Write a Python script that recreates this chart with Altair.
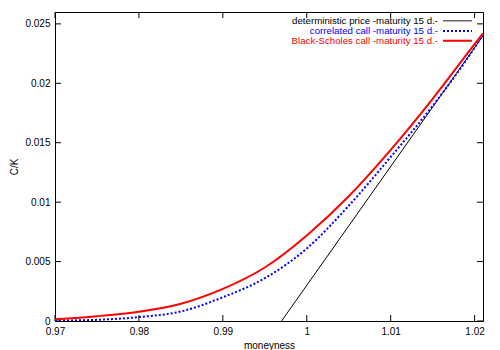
import altair as alt
import pandas as pd

# ---- data ----
moneyness = [0.970, 0.975, 0.980, 0.985, 0.990, 0.995, 1.000, 1.005, 1.010, 1.015, 1.020, 1.021]
bs_call = [0.00014, 0.00040, 0.00078, 0.00145, 0.00270, 0.00450, 0.00720, 0.01050, 0.01440, 0.01870, 0.02330, 0.02420]
corr_call = [0.00003, 0.00010, 0.00033, 0.00080, 0.00200, 0.00360, 0.00610, 0.00970, 0.01380, 0.01810, 0.02300, 0.02410]
det_x = [0.997, 1.021]
det_y = [0.0, 0.024]

x_ticks = [0.97, 0.98, 0.99, 1.00, 1.01, 1.02]
y_ticks = [0, 0.005, 0.01, 0.015, 0.02, 0.025]

legend_labels = [
    "deterministic price -maturity 15 d.-",
    "correlated call -maturity 15 d.-",
    "Black-Scholes call -maturity 15 d.-",
]
legend_colors = ["#000000", "#0000ff", "#ff0000"]

W, H = 428, 309
FONT = "Liberation Sans"

xs = alt.Scale(domain=[0.97, 1.021], nice=False, zero=False)
ys = alt.Scale(domain=[0, 0.026], nice=False, zero=False)

xaxis = alt.Axis(values=x_ticks, format="~g", ticks=False, grid=False, domain=False,
                 labelFlush=False, labelOverlap=False,
                 labelFont=FONT, labelFontSize=10, labelColor="black", labelPadding=5,
                 title="moneyness", titleFont=FONT, titleFontSize=10, titleFontWeight="normal",
                 titleColor="black", titleX=W / 2, titleY=27.5, titleBaseline="alphabetic")
yaxis = alt.Axis(values=y_ticks, format="~g", ticks=False, grid=False, domain=False,
                 labelFlush=False, labelOverlap=False,
                 labelFont=FONT, labelFontSize=10, labelColor="black", labelPadding=5,
                 title="C/K", titleFont=FONT, titleFontSize=10, titleFontWeight="normal",
                 titleColor="black", titleX=-38, titleY=H / 2, titleAngle=270,
                 titleBaseline="alphabetic", titleAlign="center")

X = lambda: alt.X("x:Q", scale=xs, axis=xaxis)
Y = lambda: alt.Y("y:Q", scale=ys, axis=yaxis)

det_df = pd.DataFrame({"x": det_x, "y": det_y})
bs_df = pd.DataFrame({"x": moneyness, "y": bs_call})
corr_df = pd.DataFrame({"x": moneyness, "y": corr_call})
xt_df = pd.DataFrame({"x": x_ticks})
yt_df = pd.DataFrame({"y": y_ticks})

det = alt.Chart(det_df).mark_line(color="black", strokeWidth=1, clip=True).encode(x=X(), y=Y())
corr = alt.Chart(corr_df).mark_line(color="#0000ff", strokeWidth=2, strokeDash=[2, 2],
                                    interpolate="monotone", clip=True).encode(x=X(), y=Y())
bs = alt.Chart(bs_df).mark_line(color="#ff0000", strokeWidth=2,
                                interpolate="monotone", clip=True).encode(x=X(), y=Y())

tick_bottom = alt.Chart(xt_df).mark_rule(color="black", strokeWidth=1).encode(
    x=X(), y=alt.value(H), y2=alt.value(H - 6))
tick_top = alt.Chart(xt_df).mark_rule(color="black", strokeWidth=1).encode(
    x=X(), y=alt.value(0), y2=alt.value(6))
tick_left = alt.Chart(yt_df).mark_rule(color="black", strokeWidth=1).encode(
    y=Y(), x=alt.value(0), x2=alt.value(6))
tick_right = alt.Chart(yt_df).mark_rule(color="black", strokeWidth=1).encode(
    y=Y(), x=alt.value(W), x2=alt.value(W - 6))

layers = [tick_bottom, tick_top, tick_left, tick_right, det, corr, bs]

leg_y = [8.7, 19, 28.7]
leg_dash = [[1, 0], [2, 2], [1, 0]]
leg_w = [1.5, 2, 2]
for i, lab in enumerate(legend_labels):
    df = pd.DataFrame({"t": [lab]})
    layers.append(alt.Chart(df).mark_text(align="right", baseline="middle", font=FONT,
                                          fontSize=9.7, color=legend_colors[i]).encode(
        text="t:N", x=alt.value(383), y=alt.value(leg_y[i])))
    layers.append(alt.Chart(df).mark_rule(color="#666666" if i == 0 else legend_colors[i],
                                          strokeWidth=leg_w[i], strokeDash=leg_dash[i]).encode(
        x=alt.value(388), x2=alt.value(417), y=alt.value(leg_y[i])))

chart = alt.layer(*layers).properties(
    width=W, height=H,
    autosize=alt.AutoSizeParams(type="none"),
    padding={"left": 47, "top": 4, "right": 9, "bottom": 30},
    background="white",
).configure_view(stroke="black", strokeWidth=1)

chart.save("out.html", embed_options={"renderer": "svg", "actions": False})
